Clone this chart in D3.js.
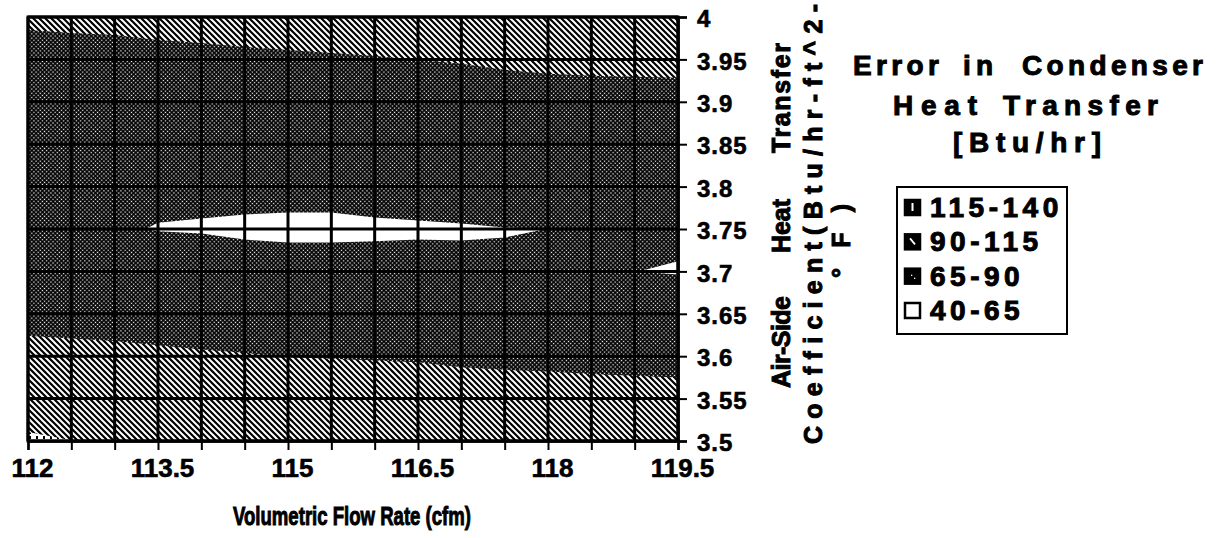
<!DOCTYPE html>
<html>
<head>
<meta charset="utf-8">
<script src="https://cdn.jsdelivr.net/npm/d3@7"></script>
<style>
  html, body { margin: 0; padding: 0; background: #fff; }
  svg { display: block; }
  svg text { font-family: "Liberation Sans", Arial, Helvetica, sans-serif; font-weight: 700; fill: #000; stroke: #000; stroke-width: 0.6px; }
  svg text.heavy { stroke-width: 1px; }
</style>
</head>
<body>
<svg id="chart" width="1224" height="538" font-family="Liberation Sans, Arial, sans-serif" font-weight="700"></svg>
<script>
// Volumetric flow rate (cfm) at each grid column
const flowRates = [112, 112.5, 113, 113.5, 114, 114.5, 115, 115.5, 116, 116.5, 117, 117.5, 118, 118.5, 119, 119.5];
// Air-side heat transfer coefficient (Btu/hr-ft^2-°F) at each grid row
const coefficients = [3.5, 3.55, 3.6, 3.65, 3.7, 3.75, 3.8, 3.85, 3.9, 3.95, 4.0];
// Error in condenser heat transfer (Btu/hr): one row per coefficient, one entry per flow rate
const errorRows = [
  [117, 115.2, 112, 108, 106, 105, 104, 103.5, 103, 102.5, 101.5, 101, 100.5, 100, 99.5, 99],
  [107.5, 104, 102, 100, 99, 98, 97.35, 97.05, 96.3, 96.14, 94.27, 93.83, 93.56, 93.18, 92.93, 92.7],
  [95.54, 94.64, 93.83, 92.57, 91.49, 90.72, 89.85, 89.55, 89.3, 89.0, 88.5, 88.2, 88.0, 87.7, 87.5, 87.3],
  [84, 83.6, 83.2, 82.7, 82.2, 81.7, 80.5, 80, 79.5, 79, 78.5, 78, 77.5, 77, 77, 78],
  [76, 75, 74, 71.5, 72.0, 69.65, 69.76, 70.44, 69.06, 68.75, 67.22, 65.88, 67, 66, 65.1, 64.0],
  [70, 68.5, 65.86, 64.65, 64.17, 63.45, 62.76, 62.44, 63.34, 63.75, 64.18, 64.78, 65.01, 66.5, 67.5, 68.2],
  [68.5, 68, 68, 67, 67.5, 68, 68.5, 69, 69.5, 70, 70.5, 71, 71.5, 72, 72.5, 73],
  [73, 72.5, 72.5, 72.5, 73, 73.5, 74, 74.5, 75, 75.5, 76, 76.5, 77, 77.5, 78, 78.5],
  [80, 80.3, 80.6, 81, 81.3, 81.7, 82.2, 82.7, 83.3, 84, 84.3, 84.6, 85, 85.3, 85.5, 85.7],
  [86, 86.3, 86.6, 87, 87.3, 87.7, 87.98, 88.65, 89.28, 90.07, 90.67, 91.77, 92.59, 92.98, 93.15, 93.31],
  [91.76, 92.23, 92.5, 93.54, 94.26, 95.52, 97, 97.5, 98, 99, 99.5, 100, 100.5, 101, 101.5, 102]
];
// Contour bands
const bandEdges = [40, 65, 90, 115, 140];
const bandLabels = ["40-65", "65-90", "90-115", "115-140"];
// Labelled ticks
const xTickLabels = ["112", "113.5", "115", "116.5", "118", "119.5"];
const yTickLabels = ["3.5", "3.55", "3.6", "3.65", "3.7", "3.75", "3.8", "3.85", "3.9", "3.95", "4"];

const svg = d3.select("#chart");
const plot = { left: 28, right: 678, top: 17, bottom: 441 };
const FONT = "Liberation Sans, Arial, sans-serif";

const x = d3.scaleLinear().domain([flowRates[0], flowRates[flowRates.length - 1]]).range([plot.left, plot.right]);
const y = d3.scaleLinear().domain([coefficients[0], coefficients[coefficients.length - 1]]).range([plot.bottom, plot.top]);

// ---- fill patterns for the bands ----
const defs = svg.append("defs");

// 65-90: black with fine staggered white dots
const pDots = defs.append("pattern").attr("id", "band-65").attr("patternUnits", "userSpaceOnUse")
  .attr("width", 3).attr("height", 3).attr("patternTransform", "rotate(45)");
pDots.append("rect").attr("width", 3).attr("height", 3).attr("fill", "#000");
pDots.append("rect").attr("x", 0.8).attr("y", 0.8).attr("width", 1.3).attr("height", 1.3).attr("fill", "#fff");

// 90-115: black with white diagonal stripes
const pHatch = defs.append("pattern").attr("id", "band-90").attr("patternUnits", "userSpaceOnUse")
  .attr("width", 6).attr("height", 6);
pHatch.append("rect").attr("width", 6).attr("height", 6).attr("fill", "#000");
pHatch.append("path").attr("d", "M-1,-1L7,7M-1,5L1,7M5,-1L7,1")
  .attr("stroke", "#fff").attr("stroke-width", 2);

// 115-140: white with sparse dark marks
const pSparse = defs.append("pattern").attr("id", "band-115").attr("patternUnits", "userSpaceOnUse")
  .attr("width", 7).attr("height", 5);
pSparse.append("rect").attr("width", 7).attr("height", 5).attr("fill", "#fff");
pSparse.append("rect").attr("x", 1).attr("y", 1).attr("width", 2).attr("height", 3).attr("fill", "#000");

const bandFill = { 40: "#fff", 65: "url(#band-65)", 90: "url(#band-90)", 115: "url(#band-115)" };

defs.append("clipPath").attr("id", "plot-clip")
  .append("rect")
  .attr("x", plot.left).attr("y", plot.top)
  .attr("width", plot.right - plot.left).attr("height", plot.bottom - plot.top);

// ---- contour bands ----
const nx = flowRates.length, ny = coefficients.length;
const values = errorRows.flat();
const contours = d3.contours()
  .size([nx, ny])
  .thresholds(bandEdges.slice(0, -1))(values);

// grid-space coordinate (value i sits at i + 0.5) -> data -> pixels
const gx = d3.scaleLinear().domain([0.5, nx - 0.5]).range([flowRates[0], flowRates[nx - 1]]);
const gy = d3.scaleLinear().domain([0.5, ny - 0.5]).range([coefficients[0], coefficients[ny - 1]]);
const toPixels = d3.geoTransform({
  point(px, py) { this.stream.point(x(gx(px)), y(gy(py))); }
});
const contourPath = d3.geoPath(toPixels);

const field = svg.append("g").attr("clip-path", "url(#plot-clip)");
field.selectAll("path.band")
  .data(contours)
  .join("path")
  .attr("class", "band")
  .attr("d", contourPath)
  .attr("fill", d => bandFill[d.value])
  .attr("fill-rule", "evenodd")
  .attr("stroke", "none");

// ---- grid lines ----
const grid = svg.append("g").attr("stroke", "#000").attr("stroke-width", 3);
grid.selectAll("line.v").data(flowRates).join("line")
  .attr("class", "v")
  .attr("x1", d => x(d)).attr("x2", d => x(d))
  .attr("y1", plot.top).attr("y2", plot.bottom);
grid.selectAll("line.h").data(coefficients).join("line")
  .attr("class", "h")
  .attr("x1", plot.left).attr("x2", plot.right)
  .attr("y1", d => y(d)).attr("y2", d => y(d));

svg.append("rect")
  .attr("x", plot.left).attr("y", plot.top)
  .attr("width", plot.right - plot.left).attr("height", plot.bottom - plot.top)
  .attr("fill", "none").attr("stroke", "#000").attr("stroke-width", 3);

// ---- x axis ----
const xLabelAt = new Map(flowRates.filter((d, i) => i % 3 === 0).map((d, i) => [d, xTickLabels[i]]));
const xAxis = d3.axisBottom(x)
  .tickValues(flowRates)
  .tickSize(9)
  .tickPadding(8)
  .tickFormat(d => xLabelAt.get(d) || "");
const gX = svg.append("g").attr("transform", `translate(0,${plot.bottom})`).call(xAxis)
  .attr("font-family", FONT).attr("font-weight", 700);
gX.select(".domain").attr("stroke", "#000").attr("stroke-width", 2.5);
gX.selectAll(".tick line").attr("stroke", "#000").attr("stroke-width", 2);
gX.selectAll(".tick text")
  .attr("font-size", 26)
  .attr("dx", 4)
  .attr("dy", "0.72em");

svg.append("text")
  .attr("class", "heavy")
  .attr("x", 352).attr("y", 525)
  .attr("text-anchor", "middle")
  .attr("font-size", 26)
  .attr("textLength", 238)
  .attr("lengthAdjust", "spacingAndGlyphs")
  .text("Volumetric Flow Rate (cfm)");

// ---- y axis (right side) ----
const yAxis = d3.axisRight(y)
  .tickValues(coefficients)
  .tickSize(9)
  .tickPadding(10)
  .tickFormat((d, i) => yTickLabels[i]);
const gY = svg.append("g").attr("transform", `translate(${plot.right},0)`).call(yAxis)
  .attr("font-family", FONT).attr("font-weight", 700);
gY.select(".domain").attr("stroke", "#000").attr("stroke-width", 2.5);
gY.selectAll(".tick line").attr("stroke", "#000").attr("stroke-width", 2);
gY.selectAll(".tick text")
  .attr("font-size", 24)
  .attr("letter-spacing", 1)
  .attr("dy", "0.4em");

// y axis title, three rotated lines reading upward
const yTitle = svg.append("g").attr("font-size", 25);
[
  { text: "Air-Side", base: 790, from: 388, len: 92 },
  { text: "Heat", base: 790, from: 253, len: 54 },
  { text: "Transfer", base: 790, from: 153, len: 110 },
  { text: "Coefficient(Btu/hr-ft^2-", base: 822, from: 444, len: 440 },
  { text: "°F)", base: 850, from: 278, len: 74 }
].forEach(t => {
  yTitle.append("text")
    .attr("class", "heavy")
    .attr("transform", `translate(${t.base},${t.from}) rotate(-90)`)
    .attr("textLength", t.len)
    .attr("lengthAdjust", "spacing")
    .text(t.text);
});

// ---- legend ----
const legendTitle = svg.append("g").attr("font-size", 28);
[
  { text: "Error", x: 853, y: 75, len: 86 },
  { text: "in", x: 963, y: 75, len: 30 },
  { text: "Condenser", x: 1022, y: 75, len: 181 },
  { text: "Heat", x: 893, y: 115, len: 84 },
  { text: "Transfer", x: 1003, y: 115, len: 155 },
  { text: "[Btu/hr]", x: 953, y: 152, len: 148 }
].forEach(t => {
  legendTitle.append("text")
    .attr("class", "heavy")
    .attr("x", t.x).attr("y", t.y)
    .attr("textLength", t.len)
    .attr("lengthAdjust", "spacing")
    .text(t.text);
});

const legend = svg.append("g");
legend.append("rect")
  .attr("x", 897).attr("y", 187).attr("width", 170).attr("height", 147)
  .attr("fill", "#fff").attr("stroke", "#000").attr("stroke-width", 2);

const legendOrder = bandLabels.slice().reverse();   // highest band first
const legendRow = d3.scalePoint().domain(legendOrder).range([207, 310]);
const legendItems = legend.selectAll("g.item").data(legendOrder).join("g")
  .attr("class", "item")
  .attr("transform", d => `translate(905,${legendRow(d)})`);

legendItems.append("rect")
  .attr("x", 0).attr("y", -7).attr("width", 15).attr("height", 15)
  .attr("fill", d => d === "40-65" ? "#fff" : "#000")
  .attr("stroke", "#000").attr("stroke-width", 2.5);
// marks inside the swatches
legendItems.filter(d => d === "115-140").append("rect")
  .attr("x", 6.5).attr("y", -4).attr("width", 2).attr("height", 8).attr("fill", "#fff");
legendItems.filter(d => d === "90-115").append("line")
  .attr("x1", 5).attr("y1", -3).attr("x2", 10).attr("y2", 3)
  .attr("stroke", "#fff").attr("stroke-width", 1.8);
legendItems.filter(d => d === "65-90").selectAll("rect.dot").data([[6, -1], [9, 2]]).join("rect")
  .attr("class", "dot")
  .attr("x", p => p[0]).attr("y", p => p[1]).attr("width", 1.3).attr("height", 1.3).attr("fill", "#fff");

legendItems.append("text")
  .attr("class", "heavy")
  .attr("x", 25).attr("y", 10)
  .attr("font-size", 28)
  .attr("letter-spacing", 4.5)
  .text(d => d);
</script>
</body>
</html>
